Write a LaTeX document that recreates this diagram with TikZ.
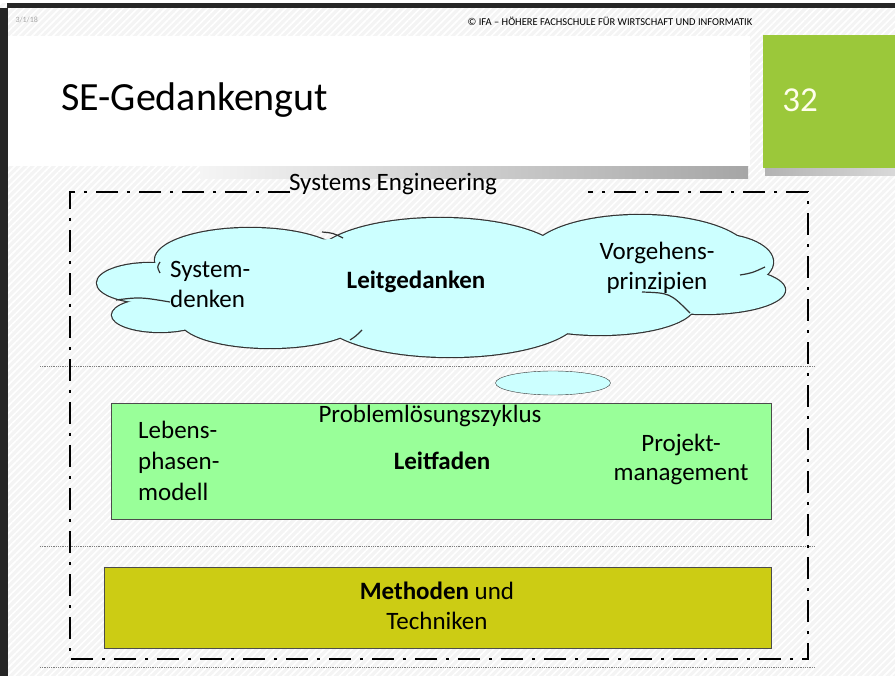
\documentclass[tikz,border=0pt]{standalone}
\usepackage{fontspec}
\setmainfont{Carlito}
\usetikzlibrary{shapes.geometric,patterns.meta}
\definecolor{cloudc}{HTML}{CCFFFF}
\definecolor{leitc}{HTML}{99FF99}
\definecolor{methc}{HTML}{CCCC14}
\definecolor{slidegreen}{HTML}{9BC83A}
\begin{document}
\begin{tikzpicture}[x=1pt,y=-1pt]
                \tikzstyle{txt}=[font=\fontsize{25}{30}\selectfont, align=center, inner sep=0pt]
                \tikzstyle{sep}=[gray, densely dotted, line width=0.8pt]
                \tikzstyle{frame}=[line width=2.6pt, dash pattern=on 22pt off 9pt on 3pt off 9pt]
                \tikzstyle{box}=[draw=gray!60!black, line width=1pt, inner sep=0pt]
                \tikzstyle{puff}=[black!80, line width=1.2pt]

                \useasboundingbox (0,0) rectangle (895,676);
                \fill[gray!9] (0,0) rectangle (895,676);
                \fill[pattern={Lines[angle=45,distance=5pt,line width=1.6pt]}, pattern color=white] (0,0) rectangle (895,676);
                \fill[white] (0,0) rectangle (895,3);
                \fill[black!85] (7,3) rectangle (895,8);
                \fill[black!85] (0,8) rectangle (8,676);

                \shade[left color=gray!8, right color=gray!70] (200,166) rectangle (748,179);
                \shade[left color=gray!60, right color=gray!30] (765,168) rectangle (895,176);
                \fill[white] (8,36) rectangle (750,166);
                \fill[slidegreen] (763,35) rectangle (895,168);

                \node[text=gray!70, font=\fontsize{8}{8}\selectfont, anchor=west] (date) at (12,20) {3/1/18};
                \node[font=\fontsize{10.5}{10}\selectfont] (ifa) at (610,21) {© IFA – HÖHERE FACHSCHULE FÜR WIRTSCHAFT UND INFORMATIK};
                \node[font=\fontsize{40}{42}\selectfont, anchor=west, inner sep=0pt] (title) at (61,100) {SE-Gedankengut};
                \node[text=white!92!yellow, font=\fontsize{35}{36}\selectfont] (page) at (800,100) {32};

                \draw[sep] (40,366) -- (815,366);
                \draw[sep] (40,546) -- (815,546);
                \draw[sep] (40,667) -- (815,667);

                \foreach \cx/\cy/\rx/\ry in {150/283/53/20, 160/315/48/17, 250/260/95/32, 440/260/125/42,
                    640/255/110/40, 715/262/58/28, 705/290/80/24, 600/305/95/30, 450/315/130/42, 270/320/90/28}
                    \draw[black!80, line width=2.4pt] (\cx,\cy) ellipse [x radius=\rx, y radius=\ry];
                \foreach \cx/\cy/\rx/\ry in {150/283/53/20, 160/315/48/17, 250/260/95/32, 440/260/125/42,
                    640/255/110/40, 715/262/58/28, 705/290/80/24, 600/305/95/30, 450/315/130/42, 270/320/90/28, 440/285/280/50}
                    \fill[cloudc] (\cx,\cy) ellipse [x radius=\rx, y radius=\ry];
                \draw[puff] (160,262) .. controls (157,267) .. (160,273);
                \draw[puff] (116,300) .. controls (140,297) .. (170,302);
                \draw[puff] (322,232) .. controls (333,233) .. (343,238);
                \draw[puff] (350,340) .. controls (356,336) .. (362,330);
                \draw[puff] (642,292) .. controls (670,293) .. (690,313);
                \draw[puff] (740,275) .. controls (752,273) .. (765,267);

                \node[ellipse, draw=black!80, fill=cloudc, minimum width=115pt, minimum height=24pt] (el) at (553,383) {};
                \node[box, fill=leitc, minimum width=660pt, minimum height=115pt] (lf) at (441,461.5) {};
                \node[box, fill=methc, minimum width=667pt, minimum height=81pt] (mt) at (437.5,607.5) {};

                \draw[frame] (290,192) -- (70,192) -- (70,659) -- (808,659) -- (808,192) -- (588,192);
                \node[txt] (se) at (393,184) {Systems Engineering};

                \node[txt, align=left, anchor=west] (sd) at (170,284) {System-\\denken};
                \node[txt] (lg) at (416,282) {\textbf{Leitgedanken}};
                \node[txt] (vp) at (657,268) {Vorgehens-\\prinzipien};

                \node[txt] (pz) at (430,416) {Problemlösungszyklus};
                \node[txt, align=left, anchor=west, font=\fontsize{25}{31}\selectfont] (lp) at (138,461) {Lebens-\\phasen-\\modell};
                \node[txt] (lfd) at (442,461) {\textbf{Leitfaden}};
                \node[txt, font=\fontsize{25}{29}\selectfont] (pm) at (681,459) {Projekt-\\management};

                \node[txt] (mu) at (437,606) {\textbf{Methoden} und\\Techniken};
            \end{tikzpicture}
\end{document}
